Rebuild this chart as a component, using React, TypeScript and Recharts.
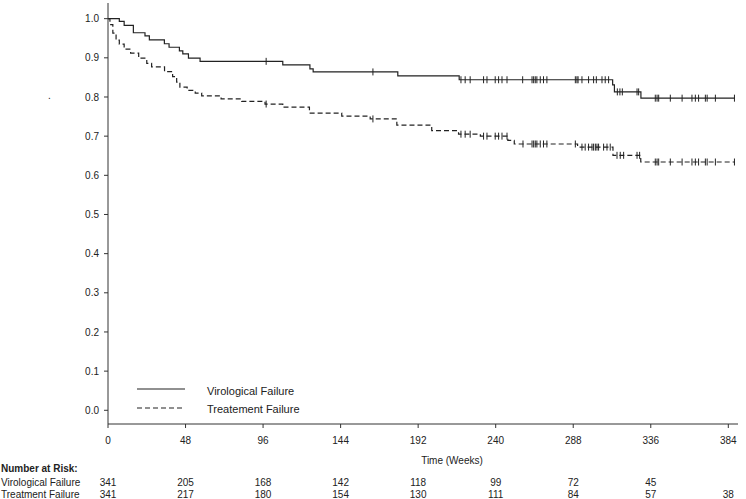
import React from 'react';
import { ComposedChart, Line, XAxis, YAxis, Legend } from 'recharts';

const weekTicks = [0, 48, 96, 144, 192, 240, 288, 336, 384];
const survivalTicks = [0, 0.1, 0.2, 0.3, 0.4, 0.5, 0.6, 0.7, 0.8, 0.9, 1.0];

const vfAtRisk = [341, 205, 168, 142, 118, 99, 72, 45, null];
const tfAtRisk = [341, 217, 180, 154, 130, 111, 84, 57, 38];

// Virological failure: step times (weeks) and survival after each step
const vfTimes = [0, 7, 10, 15.7, 22.9, 25.6, 34.9, 37.8, 44.2, 46.3, 49.8, 57, 108.2, 125, 127, 179.4, 217.4, 312.4, 313.5, 329.9];
const vfSurv = [1.0, 0.993, 0.983, 0.964, 0.956, 0.946, 0.936, 0.927, 0.918, 0.91, 0.899, 0.891, 0.882, 0.872, 0.864, 0.854, 0.844, 0.831, 0.813, 0.797];
const vfCensored = [97.9, 164, 218.5, 221.1, 224.2, 232.5, 234.6, 239.7, 241.8, 243.9, 247, 256.7, 262.5, 263.5, 264.5, 265.5, 267.6, 269.6, 271.7, 289.3, 290.3, 291, 293.4, 297.5, 300.6, 302.3, 305.8, 307.8, 309.9, 315.3, 316.9, 318.4, 327.5, 328.5, 338.8, 339.9, 340.9, 348.1, 355.4, 361.5, 363.6, 365.6, 369.8, 370.9, 376, 387.8];

// Treatment failure
const tfTimes = [0, 1.2, 3, 5, 7, 10, 14, 19, 24, 27, 35, 40, 42.5, 44.5, 49, 54, 58, 70, 82.8, 97.2, 108.2, 124.7, 144.7, 162.3, 178.8, 200.4, 217, 230.5, 247.5, 251.5, 290.7, 312.6, 329.8];
const tfSurv = [1.0, 0.985, 0.963, 0.945, 0.935, 0.922, 0.912, 0.899, 0.886, 0.877, 0.865, 0.852, 0.838, 0.825, 0.817, 0.81, 0.803, 0.795, 0.789, 0.782, 0.774, 0.759, 0.751, 0.744, 0.728, 0.714, 0.705, 0.7, 0.689, 0.68, 0.672, 0.651, 0.634];
const tfCensored = [97.9, 164, 218.5, 221.1, 224.2, 232.5, 234.6, 239.7, 241.8, 243.9, 247, 256.9, 262.5, 263.5, 264.5, 265.5, 267.6, 269.6, 271.7, 289.3, 293.4, 295.4, 297.5, 299.6, 300.6, 301.7, 302.7, 303.7, 306.8, 308.9, 310.9, 315.1, 317.1, 319.2, 327.5, 329.1, 338.8, 339.9, 340.9, 348.1, 355.4, 361.5, 363.6, 365.6, 369.8, 370.9, 376, 387.8];

const lastWeek = 388;

const font = '"Liberation Sans", Arial, sans-serif';
const ink = '#222';

function buildCurve(times: number[], surv: number[], censored: number[]) {
  const pts = times.map((t, i) => ({ t, s: surv[i], c: false }));
  censored.forEach((t) => {
    let idx = 0;
    times.forEach((st, i) => { if (st <= t) idx = i; });
    pts.push({ t, s: surv[idx], c: true });
  });
  pts.push({ t: lastWeek, s: surv[surv.length - 1], c: false });
  return pts.sort((a, b) => a.t - b.t);
}

const vfData = buildCurve(vfTimes, vfSurv, vfCensored);
const tfData = buildCurve(tfTimes, tfSurv, tfCensored);

const series = [
  { name: 'Virological Failure', dash: undefined as string | undefined },
  { name: 'Treatement Failure', dash: '5 3' },
];

const CensorMark = (props: any) => {
  const { cx, cy, payload, index } = props;
  if (!payload || !payload.c) return <g key={'n' + index} />;
  return <line key={'c' + index} x1={cx} x2={cx} y1={cy - 3.5} y2={cy + 3.5} stroke={ink} strokeWidth={1} />;
};

// week label plus the two number-at-risk rows under each tick
const WeekTick = (props: any) => {
  const { x, y, payload } = props;
  const i = weekTicks.indexOf(payload.value);
  const vf = vfAtRisk[i];
  const tf = tfAtRisk[i];
  return (
    <g fontSize={10} fill={ink} fontFamily={font} textAnchor="middle">
      <text x={x} y={y + 7.5}>{payload.value}</text>
      <text x={x} y={y + 50}>{vf == null ? '' : vf}</text>
      <text x={x} y={y + 62}>{tf == null ? '' : tf}</text>
    </g>
  );
};

const renderLegend = () => (
  <svg width={200} height={40}>
    {series.map((s, i) => (
      <g key={s.name}>
        <line x1={7} x2={55} y1={11 + i * 19} y2={11 + i * 19} stroke={ink} strokeWidth={1.2} strokeDasharray={s.dash} />
        <text x={77} y={17 + i * 18} fontSize={11} fill={ink} fontFamily={font}>{s.name}</text>
      </g>
    ))}
  </svg>
);

export default function App() {
  return (
    <div style={{ position: 'absolute', left: 0, top: 0, width: 746, height: 499, background: '#fff' }}>
      <ComposedChart width={746} height={499} margin={{ top: 3, right: 8, bottom: 2, left: 48 }}>
        <XAxis
          dataKey="t"
          type="number"
          domain={[0, 390]}
          ticks={weekTicks}
          allowDataOverflow
          height={73}
          tickSize={4}
          tickMargin={8}
          stroke="#333"
          tick={WeekTick}
          label={{ value: 'Time (Weeks)', position: 'insideBottom', offset: 33, dx: 29, fontSize: 10, fill: ink, fontFamily: font }}
        />
        <YAxis
          type="number"
          domain={[-0.035, 1.04]}
          ticks={survivalTicks}
          allowDataOverflow
          width={60}
          tickSize={4}
          tickMargin={5}
          stroke="#333"
          tickFormatter={(v: number) => v.toFixed(1)}
          tick={{ fontSize: 10, fill: ink, fontFamily: font }}
        />
        <Legend layout="vertical" align="center" verticalAlign="middle" content={renderLegend}
          wrapperStyle={{ left: 130, top: 378, width: 200, height: 40 }} />
        <Line data={vfData} dataKey="s" name={series[0].name} type="stepAfter" stroke={ink} strokeWidth={1.2}
          dot={CensorMark} activeDot={false} isAnimationActive={false} />
        <Line data={tfData} dataKey="s" name={series[1].name} type="stepAfter" stroke={ink} strokeWidth={1.2}
          strokeDasharray="5 3" dot={CensorMark} activeDot={false} isAnimationActive={false} />
      </ComposedChart>
      <svg width={746} height={499} style={{ position: 'absolute', left: 0, top: 0, pointerEvents: 'none' }}>
        <text x={48} y={99} fontSize={10} fill={ink} fontFamily={font}>.</text>
        <text x={1} y={472} fontSize={10} fontWeight="bold" fill={ink} fontFamily={font}>Number at Risk:</text>
        <text x={1} y={486} fontSize={10} fill={ink} fontFamily={font}>Virological Failure</text>
        <text x={1} y={498} fontSize={10} fill={ink} fontFamily={font}>Treatment Failure</text>
      </svg>
    </div>
  );
}
